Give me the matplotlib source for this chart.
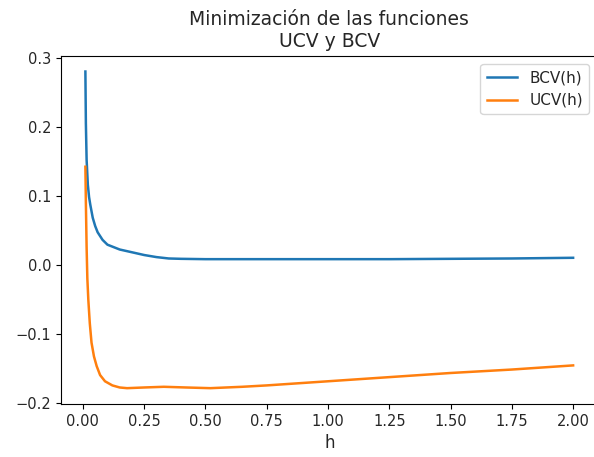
import matplotlib
import matplotlib.pyplot as plt
matplotlib.use('agg')

# bandwidth grid and criterion values
h_bcv = [0.01, 0.012, 0.015, 0.02, 0.025, 0.03, 0.04, 0.05, 0.06, 0.08, 0.10,
         0.15, 0.20, 0.25, 0.30, 0.35, 0.40, 0.50, 0.75, 1.00, 1.25, 1.50, 1.75, 2.00]
bcv = [0.280, 0.205, 0.152, 0.116, 0.098, 0.087, 0.068, 0.056, 0.047, 0.036, 0.029,
       0.022, 0.018, 0.014, 0.011, 0.009, 0.0085, 0.008, 0.008, 0.008, 0.008, 0.0085, 0.009, 0.010]

h_ucv = [0.01, 0.012, 0.015, 0.018, 0.022, 0.028, 0.035, 0.045, 0.056, 0.07, 0.09,
         0.12, 0.15, 0.18, 0.25, 0.33, 0.42, 0.52, 0.65, 0.75, 1.00, 1.25, 1.50, 1.75, 2.00]
ucv = [0.142, 0.090, 0.025, -0.020, -0.051, -0.085, -0.113, -0.133, -0.147, -0.160, -0.169,
       -0.175, -0.178, -0.179, -0.178, -0.177, -0.178, -0.179, -0.177, -0.175, -0.169,
       -0.163, -0.157, -0.152, -0.146]

plt.rcParams['font.size'] = 12
plt.rcParams['xtick.labelsize'] = 10.5
plt.rcParams['ytick.labelsize'] = 10.5
plt.rcParams['text.color'] = '#262626'
plt.rcParams['xtick.labelcolor'] = '#262626'
plt.rcParams['ytick.labelcolor'] = '#262626'
plt.rcParams['axes.labelcolor'] = '#262626'

fig = plt.figure(figsize=(5.94, 4.57), dpi=100)
ax = fig.add_axes([61 / 594, 1 - 404 / 457, (597.5 - 61) / 594, (404 - 55.7) / 457])

ax.plot(h_bcv, bcv, label='BCV(h)', lw=1.8)
ax.plot(h_ucv, ucv, label='UCV(h)', lw=1.8)
ax.spines['right'].set_visible(False)
ax.set_title('Minimización de las funciones\nUCV y BCV', fontsize=13.5)
ax.set_xlabel('h')
ax.set_xticks([0, 0.25, 0.5, 0.75, 1.0, 1.25, 1.5, 1.75, 2.0])
ax.legend(loc='upper right', fontsize=11, borderaxespad=0.55)

fig.savefig('out.png')
